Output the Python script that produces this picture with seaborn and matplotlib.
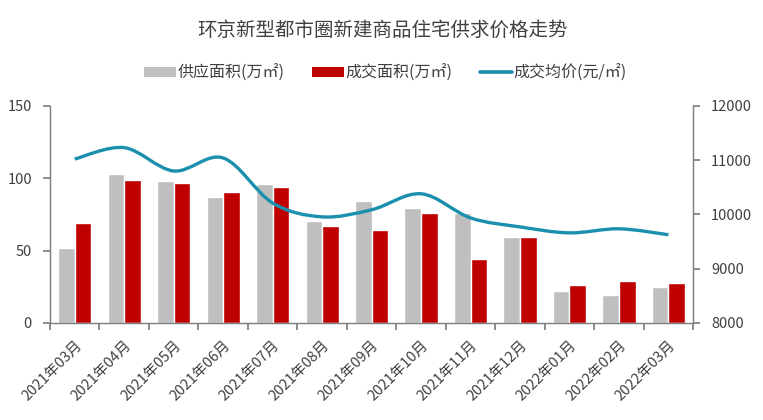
import numpy as np
import pandas as pd
import matplotlib
matplotlib.use("Agg")
import matplotlib.pyplot as plt
from matplotlib.path import Path
from matplotlib.patches import PathPatch, Patch
from matplotlib.lines import Line2D
import seaborn as sns

months = ["2021年03月", "2021年04月", "2021年05月", "2021年06月", "2021年07月",
          "2021年08月", "2021年09月", "2021年10月", "2021年11月", "2021年12月",
          "2022年01月", "2022年02月", "2022年03月"]
supply = [52, 102.8, 97.9, 87, 96.3, 70.4, 84.3, 79.7, 76.2, 59.6, 22.4, 19.6, 25.2]
deal = [69.2, 99, 96.5, 90.3, 94.2, 66.7, 63.9, 76.2, 44.3, 59.4, 25.9, 28.9, 27.9]
price = [11020, 11230, 10800, 11040, 10210, 9955, 10085, 10380, 9935, 9770, 9660, 9735, 9625]

GRAY = "#BFBFBF"
RED = "#C00000"
BLUE = "#1A8FAE"
TXT = "#404040"
AXC = "#808080"

sns.set_theme(style="white")
plt.rcParams['font.family'] = ['Noto Sans CJK SC', 'DejaVu Sans']

df = pd.DataFrame({
    "month": months * 2,
    "value": supply + deal,
    "kind": ["供应面积(万㎡)"] * len(months) + ["成交面积(万㎡)"] * len(months),
})

fig = plt.figure(figsize=(7.63, 4.2), dpi=100)
ax = fig.add_axes([0.0655, 0.231, 0.843, 0.517])
sns.barplot(data=df, x="month", y="value", hue="kind", palette=[GRAY, RED],
            width=0.67, gap=0, ax=ax, legend=False, saturation=1)
ax.set_xlim(-0.5, len(months) - 0.5)
ax.set_ylim(0, 150)
ax.set_yticks([0, 50, 100, 150])
ax.set_xlabel("")
ax.set_ylabel("")

# category ticks between groups, labels at centres
ax.set_xticks(np.arange(len(months) + 1) - 0.5)
ax.set_xticklabels([])
ax.set_xticks(np.arange(len(months)), minor=True)
ax.set_xticklabels(months, minor=True, rotation=45, ha="right", rotation_mode="anchor",
                   fontsize=10.5, color=TXT)
ax.tick_params(axis="x", which="major", length=5, color=AXC, direction="out", bottom=True)
ax.tick_params(axis="x", which="minor", length=0, pad=11)
ax.tick_params(axis="y", length=5, color=AXC, direction="out", left=True, labelsize=10.5,
               labelcolor=TXT, pad=8)

ax2 = ax.twinx()
ax2.set_ylim(8000, 12000)
ax2.set_yticks([8000, 9000, 10000, 11000, 12000])
ax2.tick_params(axis="y", length=5, color=AXC, direction="out", right=True, labelsize=10.5,
                labelcolor=TXT, pad=8)
ax2.grid(False)

# smoothed price line (Catmull-Rom as cubic Bezier)
pts = np.column_stack([np.arange(len(price)), price]).astype(float)
verts = [pts[0]]
codes = [Path.MOVETO]
n = len(pts)
for i in range(n - 1):
    p0 = pts[max(i - 1, 0)]
    p1 = pts[i]
    p2 = pts[i + 1]
    p3 = pts[min(i + 2, n - 1)]
    c1 = p1 + (p2 - p0) / 6
    c2 = p2 - (p3 - p1) / 6
    verts += [c1, c2, p2]
    codes += [Path.CURVE4] * 3
ax2.add_patch(PathPatch(Path(verts, codes), facecolor="none", edgecolor=BLUE,
                        lw=2.4, capstyle="butt", joinstyle="round"))

for a in (ax, ax2):
    a.spines["top"].set_visible(False)
    for s in ("left", "right", "bottom"):
        a.spines[s].set_color(AXC)
        a.spines[s].set_linewidth(0.9)

fig.text(0.501, 0.927, "环京新型都市圈新建商品住宅供求价格走势", ha="center", va="center",
         fontsize=14, color=TXT)

handles = [Patch(facecolor=GRAY, edgecolor="none"),
           Patch(facecolor=RED, edgecolor="none"),
           Line2D([], [], color=BLUE, lw=2.6)]
labels = ["供应面积(万㎡)", "成交面积(万㎡)", "成交均价(元/㎡)"]
fig.legend(handles, labels, loc="center", bbox_to_anchor=(0.505, 0.826), ncol=3,
           frameon=False, fontsize=11.5, handlelength=2.0, handleheight=0.6,
           handletextpad=0.1, columnspacing=1.7, labelcolor=TXT)

fig.savefig("out.png", dpi=100)
